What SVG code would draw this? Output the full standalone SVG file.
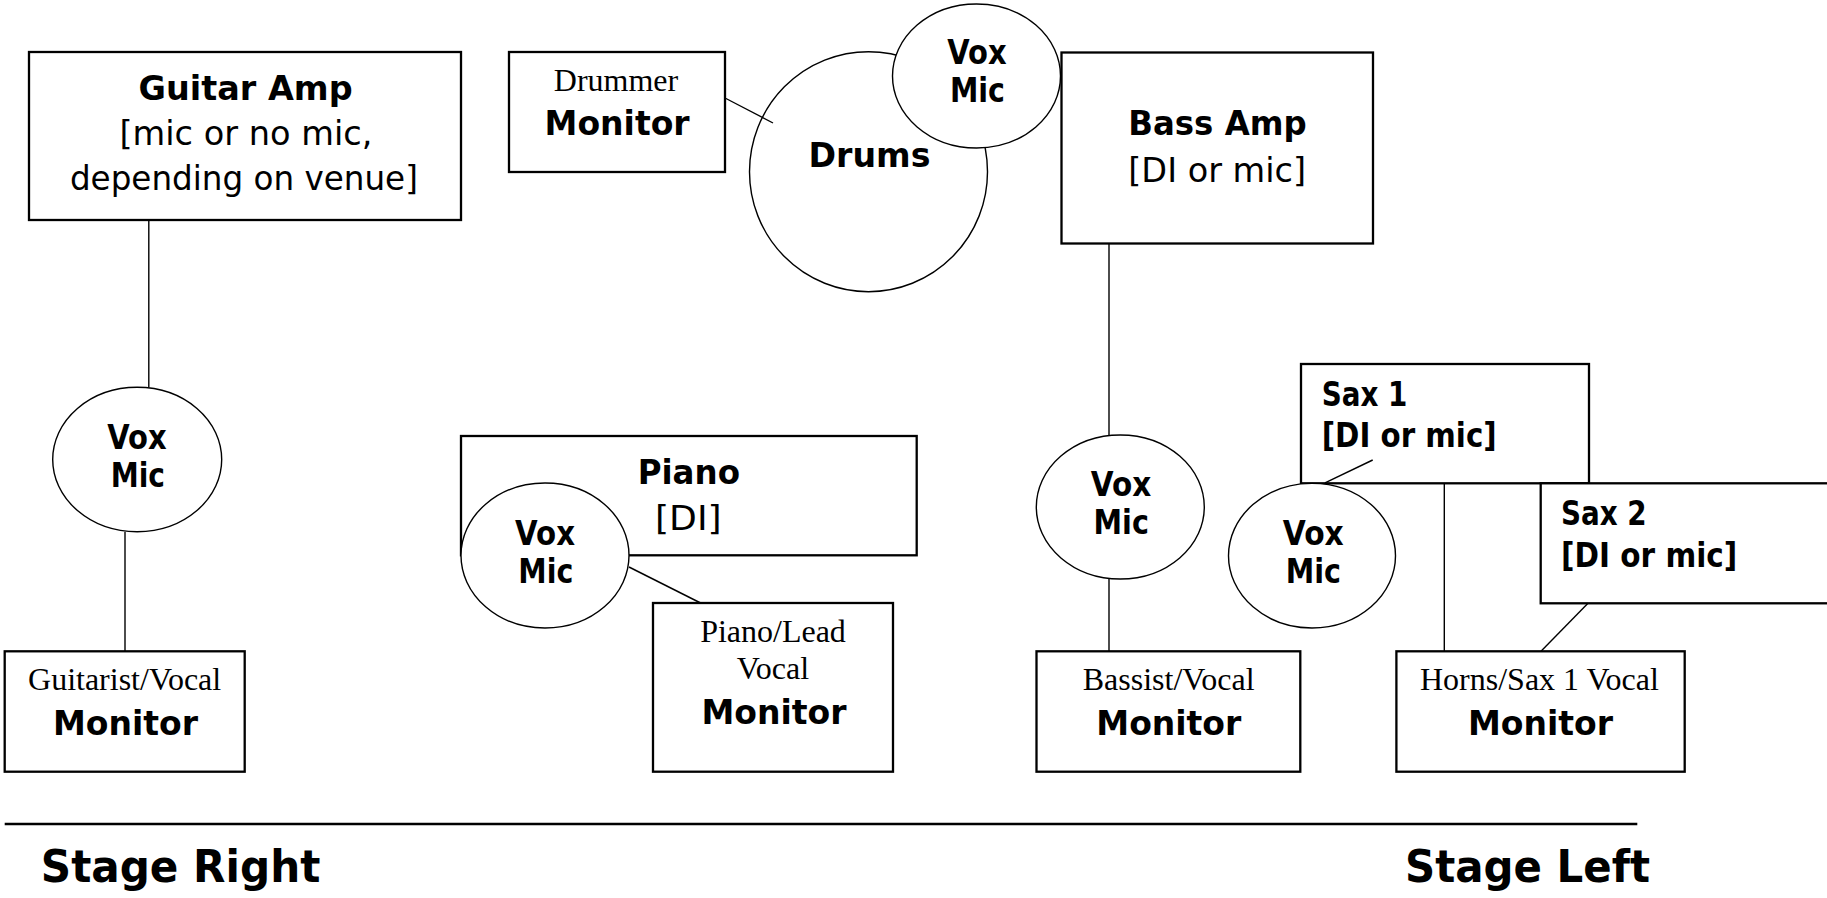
<svg xmlns="http://www.w3.org/2000/svg" width="1827" height="898" viewBox="0 0 1827 898">
<style>
.box{fill:#fff;stroke:#000;stroke-width:2.3}
.mic{fill:#fff;stroke:#000;stroke-width:1.4}
.conn line{stroke:#000;stroke-width:1.4}
.b{font-family:"DejaVu Sans",Verdana,sans-serif;font-weight:bold;font-size:34px;fill:#000}
.r{font-family:"DejaVu Sans",Verdana,sans-serif;font-size:34px;fill:#000}
.s{font-family:"Liberation Serif","Times New Roman",serif;font-size:32px;fill:#000;text-anchor:middle}
.big{font-family:"DejaVu Sans",Verdana,sans-serif;font-weight:bold;font-size:45px;fill:#000}
</style>
<rect width="1827" height="898" fill="#fff"/>

<g id="guitar-amp">
<rect class="box" x="29" y="52" width="432" height="168"/>
<text class="b" x="138.6" y="100" textLength="214" lengthAdjust="spacingAndGlyphs">Guitar Amp</text>
<text class="r" x="119.4" y="145" textLength="253" lengthAdjust="spacingAndGlyphs">[mic or no mic,</text>
<text class="r" x="69.9" y="190" textLength="348" lengthAdjust="spacingAndGlyphs">depending on venue]</text>
</g>

<g id="drummer-monitor">
<rect class="box" x="509" y="52" width="216" height="120"/>
<text class="s" x="616" y="90.7">Drummer</text>
<text class="b" x="544.6" y="135" textLength="145" lengthAdjust="spacingAndGlyphs">Monitor</text>
</g>

<g id="drums">
<ellipse class="mic" cx="868.5" cy="171.7" rx="119" ry="120"/>
<text class="b" x="808.5" y="167" textLength="122" lengthAdjust="spacingAndGlyphs">Drums</text>
</g>

<g id="drums-vox-mic">
<ellipse class="mic" cx="976.5" cy="76" rx="84" ry="72"/>
<text class="b" x="947.3" y="64" textLength="59.4" lengthAdjust="spacingAndGlyphs">Vox</text>
<text class="b" x="950" y="102" textLength="55" lengthAdjust="spacingAndGlyphs">Mic</text>
</g>

<g id="bass-amp">
<rect class="box" x="1061.5" y="52.5" width="311.5" height="191"/>
<text class="b" x="1128.3" y="135" textLength="178.3" lengthAdjust="spacingAndGlyphs">Bass Amp</text>
<text class="r" x="1128.3" y="181.7" textLength="177.7" lengthAdjust="spacingAndGlyphs">[DI or mic]</text>
</g>

<g id="guitar-vox-mic">
<ellipse class="mic" cx="137.2" cy="459.5" rx="84.5" ry="72.2"/>
<text class="b" x="107.3" y="448.5" textLength="59.4" lengthAdjust="spacingAndGlyphs">Vox</text>
<text class="b" x="110.7" y="486.5" textLength="54.3" lengthAdjust="spacingAndGlyphs">Mic</text>
</g>

<g id="guitarist-monitor">
<rect class="box" x="4.7" y="651.3" width="240" height="120.4"/>
<text class="s" x="124.6" y="689.7">Guitarist/Vocal</text>
<text class="b" x="53" y="735" textLength="145" lengthAdjust="spacingAndGlyphs">Monitor</text>
</g>

<g id="piano">
<rect class="box" x="461" y="436" width="455.7" height="119.3"/>
<text class="b" x="637.7" y="483.5" textLength="102.3" lengthAdjust="spacingAndGlyphs">Piano</text>
<text class="r" x="655" y="530" textLength="66.7" lengthAdjust="spacingAndGlyphs">[DI]</text>
</g>

<g id="piano-vox-mic">
<ellipse class="mic" cx="545" cy="555.5" rx="84" ry="72.5"/>
<text class="b" x="515" y="544.5" textLength="60" lengthAdjust="spacingAndGlyphs">Vox</text>
<text class="b" x="518.3" y="582.5" textLength="55" lengthAdjust="spacingAndGlyphs">Mic</text>
</g>

<g id="piano-lead-monitor">
<rect class="box" x="653" y="603" width="240" height="168.7"/>
<text class="s" x="773" y="642">Piano/Lead</text>
<text class="s" x="773" y="679">Vocal</text>
<text class="b" x="701.5" y="724" textLength="145" lengthAdjust="spacingAndGlyphs">Monitor</text>
</g>

<g id="bass-vox-mic">
<ellipse class="mic" cx="1120.3" cy="507" rx="84" ry="72"/>
<text class="b" x="1090.8" y="495.7" textLength="60.5" lengthAdjust="spacingAndGlyphs">Vox</text>
<text class="b" x="1093.5" y="534" textLength="55.4" lengthAdjust="spacingAndGlyphs">Mic</text>
</g>

<g id="bassist-monitor">
<rect class="box" x="1036.5" y="651.3" width="263.8" height="120.4"/>
<text class="s" x="1168.7" y="689.7">Bassist/Vocal</text>
<text class="b" x="1096.3" y="735" textLength="145" lengthAdjust="spacingAndGlyphs">Monitor</text>
</g>

<g id="sax-1">
<rect class="box" x="1301" y="364" width="288" height="119.3"/>
<text class="b" x="1321.7" y="405.7" textLength="85.7" lengthAdjust="spacingAndGlyphs">Sax 1</text>
<text class="b" x="1321.7" y="447" textLength="175" lengthAdjust="spacingAndGlyphs">[DI or mic]</text>
</g>

<g id="sax-2">
<rect class="box" x="1540.7" y="483.3" width="300" height="120"/>
<text class="b" x="1561" y="525" textLength="85.7" lengthAdjust="spacingAndGlyphs">Sax 2</text>
<text class="b" x="1561" y="566.5" textLength="176.3" lengthAdjust="spacingAndGlyphs">[DI or mic]</text>
</g>

<g id="sax1-vox-mic">
<ellipse class="mic" cx="1312" cy="555.7" rx="83.5" ry="72.3"/>
<text class="b" x="1282.8" y="544.5" textLength="61" lengthAdjust="spacingAndGlyphs">Vox</text>
<text class="b" x="1285.7" y="582.5" textLength="55.3" lengthAdjust="spacingAndGlyphs">Mic</text>
</g>

<g id="horns-monitor">
<rect class="box" x="1396.4" y="651.3" width="288.3" height="120.4"/>
<text class="s" x="1539.4" y="689.7">Horns/Sax 1 Vocal</text>
<text class="b" x="1468" y="735" textLength="145" lengthAdjust="spacingAndGlyphs">Monitor</text>
</g>

<g id="connectors" class="conn">
<line x1="148.8" y1="220" x2="148.8" y2="387.3"/>
<line x1="125" y1="531.7" x2="125" y2="651.3"/>
<line x1="725" y1="98" x2="773" y2="123"/>
<line x1="1109" y1="243.5" x2="1109" y2="435"/>
<line x1="1109" y1="579" x2="1109" y2="651.3"/>
<line x1="629" y1="567" x2="700.6" y2="603"/>
<line x1="1372.7" y1="460" x2="1325" y2="482.8"/>
<line x1="1444.3" y1="483.3" x2="1444.3" y2="651.3"/>
<line x1="1588" y1="603.3" x2="1541" y2="651.3"/>
</g>

<g id="stage">
<line x1="4.7" y1="824" x2="1637.3" y2="824" stroke="#000" stroke-width="2.3"/>
<text class="big" x="40.8" y="882" textLength="279.5" lengthAdjust="spacingAndGlyphs">Stage Right</text>
<text class="big" x="1405" y="882" textLength="245" lengthAdjust="spacingAndGlyphs">Stage Left</text>
</g>
</svg>
